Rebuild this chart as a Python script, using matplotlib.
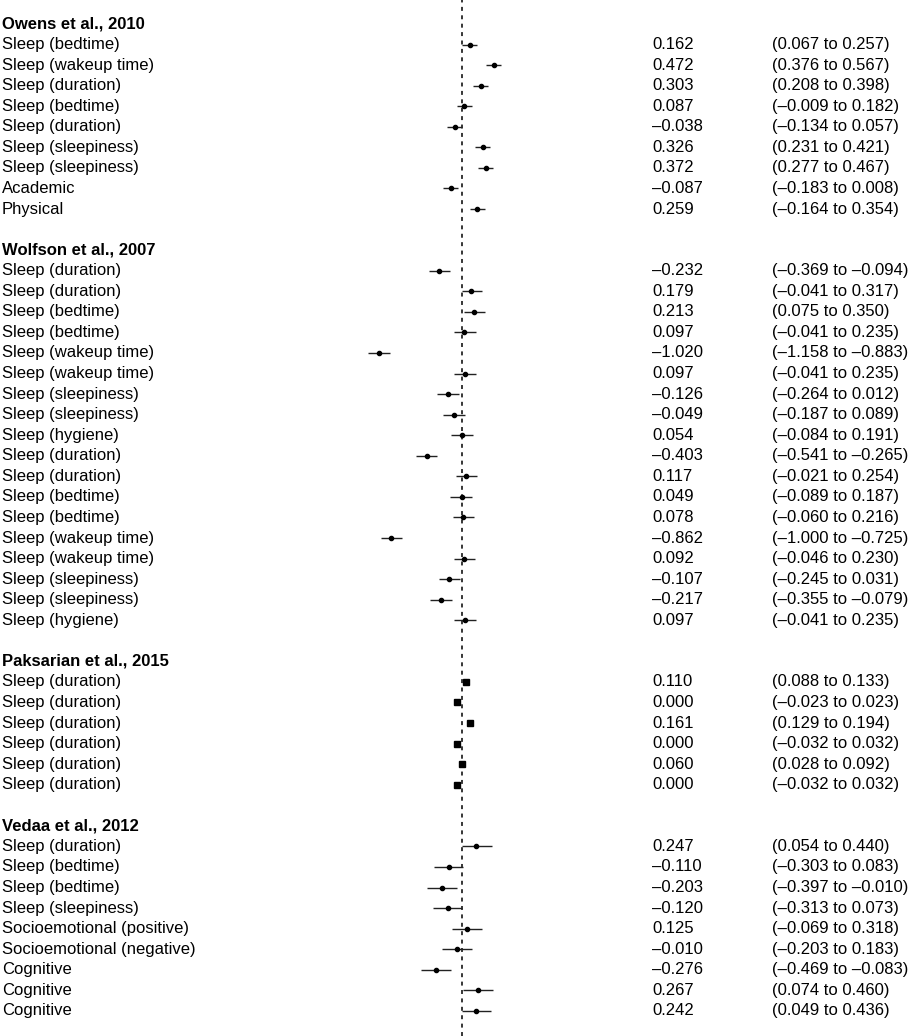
import matplotlib
matplotlib.use("Agg")
import matplotlib.pyplot as plt
from matplotlib.transforms import blended_transform_factory

plt.rcParams['font.family'] = ['Liberation Sans', 'DejaVu Sans']

# ---------------- data ----------------
studies = ["Owens et al., 2010", "Wolfson et al., 2007",
           "Paksarian et al., 2015", "Vedaa et al., 2012"]

owens_labels = ["Sleep (bedtime)", "Sleep (wakeup time)", "Sleep (duration)",
                "Sleep (bedtime)", "Sleep (duration)", "Sleep (sleepiness)",
                "Sleep (sleepiness)", "Academic", "Physical"]
owens_est = [0.162, 0.472, 0.303, 0.087, -0.038, 0.326, 0.372, -0.087, 0.259]
owens_lo = [0.067, 0.376, 0.208, -0.009, -0.134, 0.231, 0.277, -0.183, -0.164]
owens_hi = [0.257, 0.567, 0.398, 0.182, 0.057, 0.421, 0.467, 0.008, 0.354]
owens_plot_est = [0.096, 0.393, 0.234, 0.025, -0.095, 0.255, 0.296, -0.145, 0.188]
owens_plot_lo = [0.000, 0.300, 0.138, -0.070, -0.191, 0.159, 0.200, -0.241, 0.093]
owens_plot_hi = [0.188, 0.488, 0.325, 0.118, -0.004, 0.346, 0.388, -0.050, 0.280]

wolfson_labels = ["Sleep (duration)", "Sleep (duration)", "Sleep (bedtime)",
                  "Sleep (bedtime)", "Sleep (wakeup time)", "Sleep (wakeup time)",
                  "Sleep (sleepiness)", "Sleep (sleepiness)", "Sleep (hygiene)",
                  "Sleep (duration)", "Sleep (duration)", "Sleep (bedtime)",
                  "Sleep (bedtime)", "Sleep (wakeup time)", "Sleep (wakeup time)",
                  "Sleep (sleepiness)", "Sleep (sleepiness)", "Sleep (hygiene)"]
wolfson_est = [-0.232, 0.179, 0.213, 0.097, -1.020, 0.097, -0.126, -0.049, 0.054,
               -0.403, 0.117, 0.049, 0.078, -0.862, 0.092, -0.107, -0.217, 0.097]
wolfson_lo = [-0.369, -0.041, 0.075, -0.041, -1.158, -0.041, -0.264, -0.187, -0.084,
              -0.541, -0.021, -0.089, -0.060, -1.000, -0.046, -0.245, -0.355, -0.041]
wolfson_hi = [-0.094, 0.317, 0.350, 0.235, -0.883, 0.235, 0.012, 0.089, 0.191,
              -0.265, 0.254, 0.187, 0.216, -0.725, 0.230, 0.031, -0.079, 0.235]
wolfson_plot_est = [-0.288, 0.113, 0.143, 0.025, -1.041, 0.030, -0.183, -0.108, -0.008,
                    -0.445, 0.050, -0.008, 0.013, -0.891, 0.025, -0.166, -0.270, 0.030]
wolfson_plot_lo = [-0.416, -0.008, 0.018, -0.100, -1.179, -0.100, -0.316, -0.241, -0.145,
                   -0.583, -0.083, -0.150, -0.120, -1.020, -0.104, -0.295, -0.408, -0.104]
wolfson_plot_hi = [-0.150, 0.250, 0.280, 0.171, -0.904, 0.171, -0.045, 0.030, 0.130,
                   -0.313, 0.188, 0.121, 0.150, -0.754, 0.163, -0.033, -0.133, 0.168]

paksarian_labels = ["Sleep (duration)"] * 6
paksarian_est = [0.110, 0.000, 0.161, 0.000, 0.060, 0.000]
paksarian_lo = [0.088, -0.023, 0.129, -0.032, 0.028, -0.032]
paksarian_hi = [0.133, 0.023, 0.194, 0.032, 0.092, 0.032]
paksarian_plot_est = [0.046, -0.063, 0.096, -0.063, -0.004, -0.063]
paksarian_plot_lo = [0.030, -0.078, 0.076, -0.083, -0.024, -0.083]
paksarian_plot_hi = [0.062, -0.048, 0.116, -0.043, 0.016, -0.043]

vedaa_labels = ["Sleep (duration)", "Sleep (bedtime)", "Sleep (bedtime)",
                "Sleep (sleepiness)", "Socioemotional (positive)",
                "Socioemotional (negative)", "Cognitive", "Cognitive", "Cognitive"]
vedaa_est = [0.247, -0.110, -0.203, -0.120, 0.125, -0.010, -0.276, 0.267, 0.242]
vedaa_lo = [0.054, -0.303, -0.397, -0.313, -0.069, -0.203, -0.469, 0.074, 0.049]
vedaa_hi = [0.440, 0.083, -0.010, 0.073, 0.318, 0.183, -0.083, 0.460, 0.436]
vedaa_plot_est = [0.175, -0.170, -0.258, -0.179, 0.059, -0.070, -0.325, 0.193, 0.171]
vedaa_plot_lo = [0.000, -0.354, -0.441, -0.363, -0.129, -0.258, -0.516, 0.013, -0.008]
vedaa_plot_hi = [0.368, 0.009, -0.070, 0.000, 0.250, 0.121, -0.138, 0.388, 0.363]

groups = [
    (owens_labels, owens_est, owens_lo, owens_hi,
     owens_plot_est, owens_plot_lo, owens_plot_hi, "small"),
    (wolfson_labels, wolfson_est, wolfson_lo, wolfson_hi,
     wolfson_plot_est, wolfson_plot_lo, wolfson_plot_hi, "small"),
    (paksarian_labels, paksarian_est, paksarian_lo, paksarian_hi,
     paksarian_plot_est, paksarian_plot_lo, paksarian_plot_hi, "big"),
    (vedaa_labels, vedaa_est, vedaa_lo, vedaa_hi,
     vedaa_plot_est, vedaa_plot_lo, vedaa_plot_hi, "small"),
]


def fmt(v):
    return f"{v:.3f}".replace("-", "\u2013")


# ---------------- figure ----------------
W, H = 913, 1036
fig = plt.figure(figsize=(W / 100, H / 100), dpi=100)
ax = fig.add_axes([0, 0, 1, 1])
ax.axis("off")

x0_px, px_per_unit = 462.3, 80.0
ax.set_xlim((0 - x0_px) / px_per_unit, (W - x0_px) / px_per_unit)
row_h = 20.56
top_px = 24.0
ax.set_ylim((H - top_px) / row_h, -top_px / row_h)

tr = blended_transform_factory(ax.transAxes, ax.transData)
fs = 12
x_lab, x_est, x_ci = 2 / W, 652 / W, 771.5 / W

ax.axvline(0, color="black", lw=1.1, ls=(0, (2.6, 2.9)), zorder=1)

row = 0
for study, g in zip(studies, groups):
    labels, est, lo, hi, pe, pl, ph, kind = g
    ax.text(x_lab, row, study, transform=tr, fontsize=fs, fontweight="bold",
            va="center", ha="left")
    row += 1
    for i in range(len(labels)):
        ax.text(x_lab, row, labels[i], transform=tr, fontsize=fs, va="center", ha="left")
        ax.text(x_est, row, fmt(est[i]), transform=tr, fontsize=fs, va="center", ha="left")
        ax.text(x_ci, row, f"({fmt(lo[i])} to {fmt(hi[i])})", transform=tr,
                fontsize=fs, va="center", ha="left")
        ax.hlines(row, pl[i], ph[i], color="#222222", lw=1.0, zorder=2)
        if kind == "big":
            ax.plot(pe[i], row, marker="s", ms=4.8, color="black", zorder=3)
        else:
            ax.plot(pe[i], row, marker="o", ms=3.0, color="black", zorder=3)
        row += 1
    row += 1

fig.savefig("out.png", dpi=100)
